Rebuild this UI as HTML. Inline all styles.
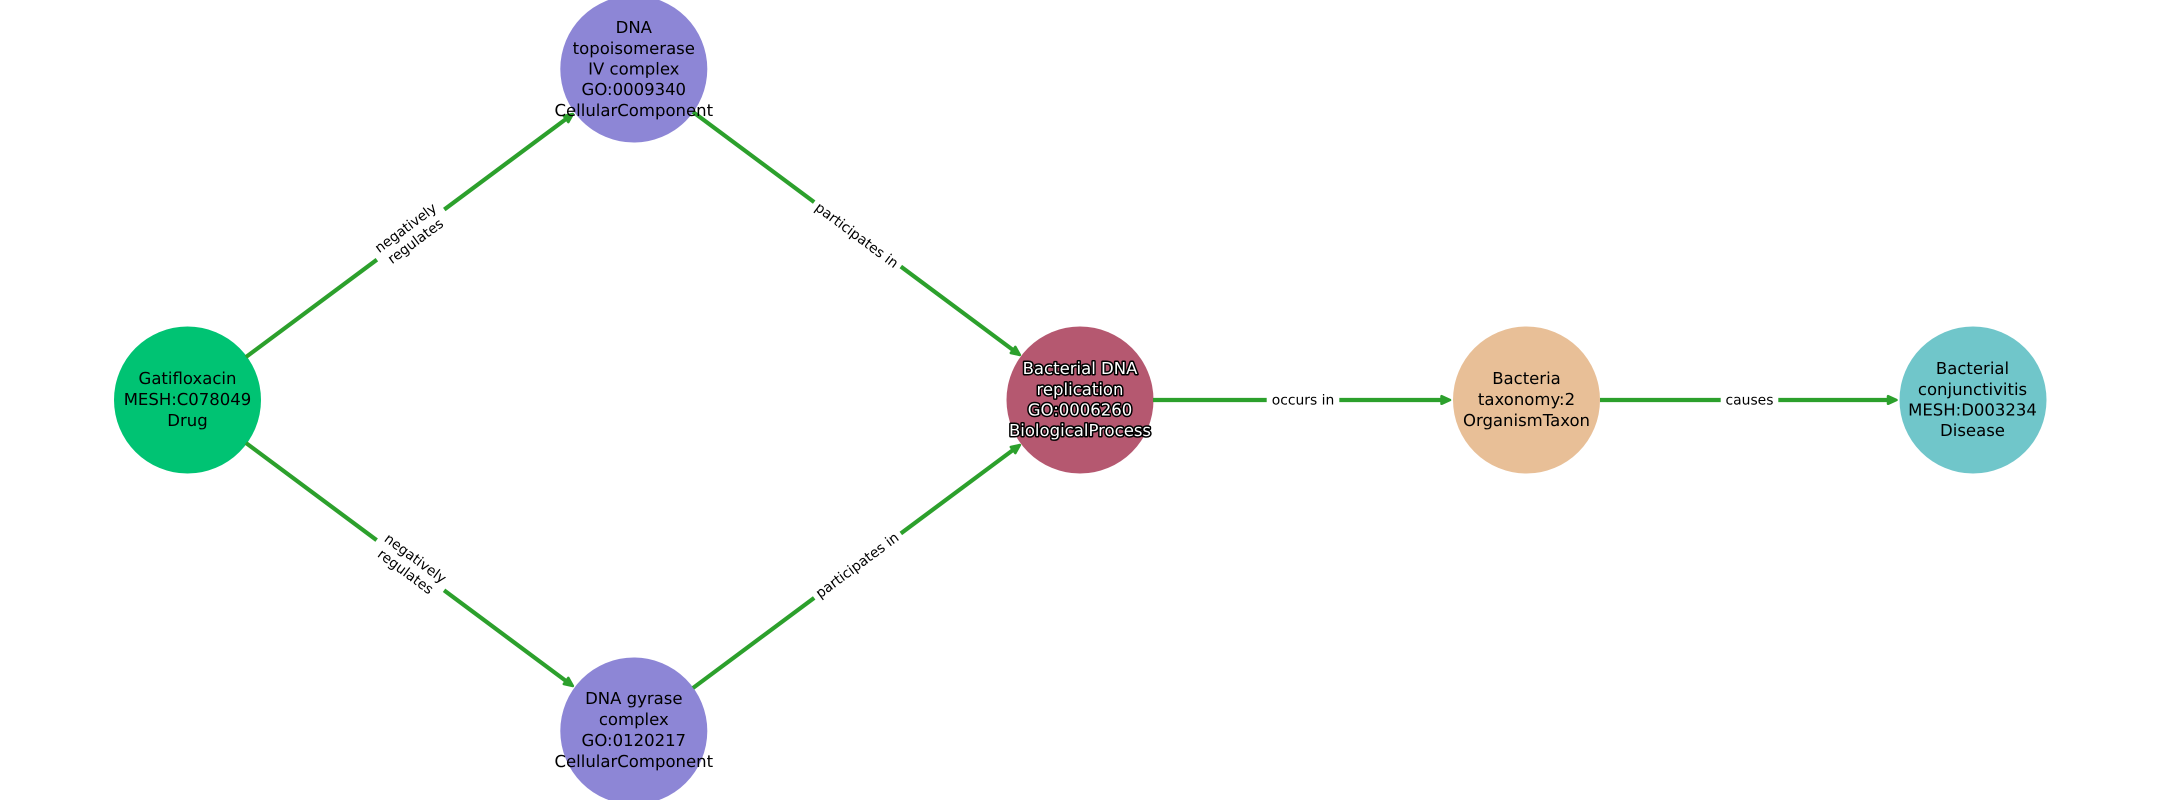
<!DOCTYPE html>
<html>
<head>
<meta charset="utf-8">
<style>
html,body{margin:0;padding:0;background:#fff;width:2160px;height:800px;overflow:hidden}
svg{display:block}
text{font-family:"DejaVu Sans","Liberation Sans",sans-serif;text-anchor:middle;fill:#000;text-rendering:geometricPrecision}
.n{font-size:16.5px}
.e{font-size:13.89px}
.h{fill:#fff;stroke:#000;stroke-width:3px;paint-order:stroke;stroke-linejoin:round}
line{stroke:#2ca02c;stroke-width:4.17px}
polygon{fill:#2ca02c;stroke:#2ca02c;stroke-width:2.5px;stroke-linejoin:round}
</style>
</head>
<body>
<svg width="2160" height="800" viewBox="0 0 2160 800" xmlns="http://www.w3.org/2000/svg">
<rect width="2160" height="800" fill="#fff"/>

<!-- nodes -->
<circle cx="187.5" cy="400" r="73.5" fill="#00c373"/>
<circle cx="633.8" cy="69" r="73.5" fill="#8d86d6"/>
<circle cx="633.8" cy="731" r="73.5" fill="#8d86d6"/>
<circle cx="1080" cy="400" r="73.5" fill="#b55870"/>
<circle cx="1526.5" cy="400" r="73.5" fill="#e8bf97"/>
<circle cx="1973" cy="400" r="73.5" fill="#70c6ca"/>

<!-- edges -->
<line x1="246" y1="357" x2="566" y2="119"/>
<polygon transform="translate(574.5 112.8) rotate(-36.6)" points="-2,0 -10.5,-3.8 -10.5,3.8"/>
<line x1="246" y1="443" x2="566" y2="681"/>
<polygon transform="translate(574.5 687.2) rotate(36.6)" points="-2,0 -10.5,-3.8 -10.5,3.8"/>
<line x1="693" y1="112" x2="1013" y2="350"/>
<polygon transform="translate(1021.5 356.2) rotate(36.6)" points="-2,0 -10.5,-3.8 -10.5,3.8"/>
<line x1="693" y1="688" x2="1013" y2="450"/>
<polygon transform="translate(1021.5 443.8) rotate(-36.6)" points="-2,0 -10.5,-3.8 -10.5,3.8"/>
<line x1="1153" y1="400" x2="1443" y2="400"/>
<polygon transform="translate(1452 400)" points="-2,0 -10.5,-3.8 -10.5,3.8"/>
<line x1="1600" y1="400" x2="1889" y2="400"/>
<polygon transform="translate(1898.5 400)" points="-2,0 -10.5,-3.8 -10.5,3.8"/>

<!-- edge labels -->
<g transform="translate(410.5 234.5) rotate(-36.6)">
<rect x="-42" y="-22" width="84" height="44" fill="#fff"/>
<text class="e" y="-3.5">negatively</text>
<text class="e" y="13">regulates</text>
</g>
<g transform="translate(410.5 565) rotate(36.6)">
<rect x="-42" y="-22" width="84" height="44" fill="#fff"/>
<text class="e" y="-3.5">negatively</text>
<text class="e" y="13">regulates</text>
</g>
<g transform="translate(857 235) rotate(36.6)">
<rect x="-54" y="-14" width="108" height="28" fill="#fff"/>
<text class="e" y="5">participates in</text>
</g>
<g transform="translate(857 565) rotate(-36.6)">
<rect x="-54" y="-14" width="108" height="28" fill="#fff"/>
<text class="e" y="5">participates in</text>
</g>
<rect x="1266.7" y="390" width="72.6" height="20" fill="#fff"/>
<text class="e" x="1303" y="404.5">occurs in</text>
<rect x="1720.7" y="390" width="57.6" height="20" fill="#fff"/>
<text class="e" x="1749.5" y="404.5">causes</text>

<!-- node labels -->
<text class="n" x="187.5" y="384">Gatifloxacin</text>
<text class="n" x="187.5" y="405">MESH:C078049</text>
<text class="n" x="187.5" y="426">Drug</text>

<text class="n" x="633.8" y="33">DNA</text>
<text class="n" x="633.8" y="54">topoisomerase</text>
<text class="n" x="633.8" y="74.5">IV complex</text>
<text class="n" x="633.8" y="95">GO:0009340</text>
<text class="n" x="633.8" y="116">CellularComponent</text>

<text class="n" x="633.8" y="704">DNA gyrase</text>
<text class="n" x="633.8" y="725">complex</text>
<text class="n" x="633.8" y="746">GO:0120217</text>
<text class="n" x="633.8" y="767">CellularComponent</text>

<text class="n h" x="1080" y="374">Bacterial DNA</text>
<text class="n h" x="1080" y="395">replication</text>
<text class="n h" x="1080" y="415.5">GO:0006260</text>
<text class="n h" x="1080" y="436">BiologicalProcess</text>

<text class="n" x="1526.5" y="384">Bacteria</text>
<text class="n" x="1526.5" y="405">taxonomy:2</text>
<text class="n" x="1526.5" y="426">OrganismTaxon</text>

<text class="n" x="1972.5" y="374">Bacterial</text>
<text class="n" x="1972.5" y="395">conjunctivitis</text>
<text class="n" x="1972.5" y="415.5">MESH:D003234</text>
<text class="n" x="1972.5" y="436">Disease</text>
</svg>
</body>
</html>
